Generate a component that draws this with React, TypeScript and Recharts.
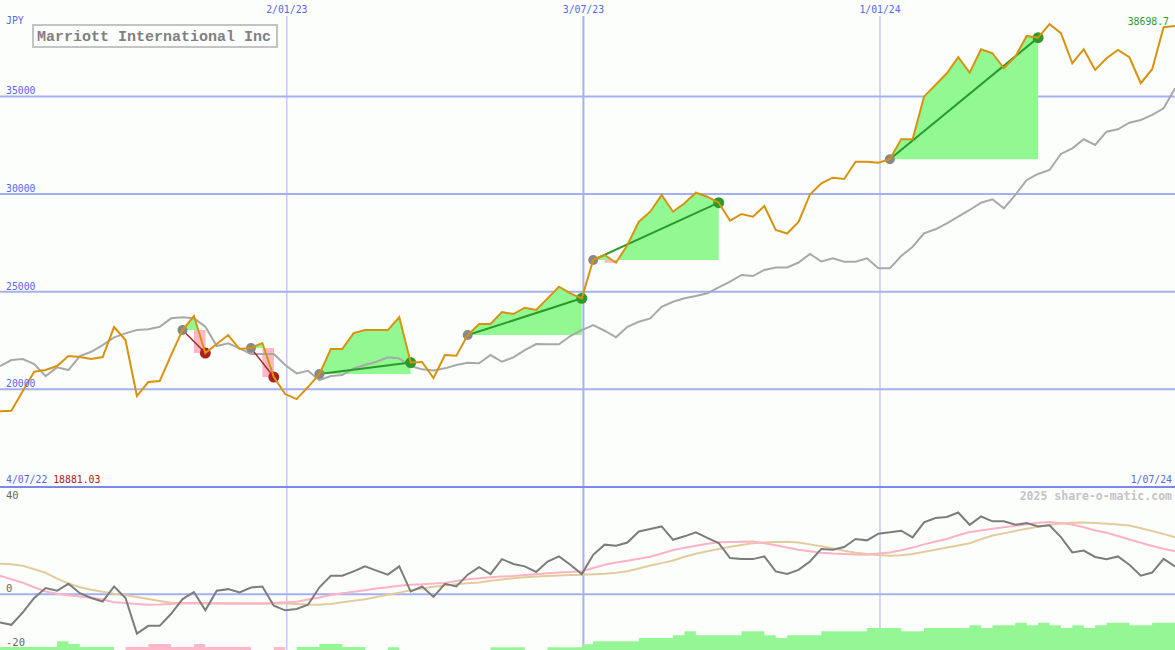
import React from "react";
import {
  ComposedChart,
  Line,
  Area,
  XAxis,
  YAxis,
  ReferenceLine,
  ReferenceArea,
  ReferenceDot,
} from "recharts";

// weekly closes, first point 6 days after 4/07/22
const startDay = 6;

const price = [
  18881, 18900, 19913, 20902, 20989, 21194, 21706, 21655, 21552, 21655,
  23192, 22526, 19657, 20374, 20425, 21757, 23038, 23755, 21860, 22321,
  22782, 22065, 22116, 22372, 20630, 19759, 19503, 20118, 20784, 22065,
  22065, 22884, 23038, 23038, 23038, 23704, 21373, 21399, 20579, 21757,
  21721, 22782, 23345, 23345, 23960, 23858, 24180, 24063, 24662, 25256,
  24918, 24662, 26624, 26880, 26486, 27393, 28586, 29098, 29954, 29098,
  29529, 30072, 29867, 29560, 28637, 28981, 28842, 29390, 28161, 27982,
  28571, 29980, 30550, 30840, 30774, 31660, 31660, 31609, 31783, 32808,
  32808, 34990, 35589, 36189, 37008, 36220, 37418, 37213, 36445, 37039,
  38100, 38012, 38699, 38238, 36701, 37418, 36358, 36957, 37382, 37008,
  35676, 36394, 38545, 38612,
];

const indexLine = [
  21194, 21501, 21552, 21296, 20681, 21127, 20989, 21706, 21926, 22269,
  22664, 22869, 23038, 23074, 23207, 23637, 23689, 23637, 23207, 22218,
  22357, 22100, 21808, 21808, 21808, 21245, 20820, 20953, 20476, 20681,
  20733, 21076, 21245, 21414, 21639, 21588, 21194, 21025, 20963, 21076,
  21245, 21363, 21332, 21757, 21414, 21639, 22013, 22321, 22305, 22305,
  22731, 23038, 23294, 23002, 22664, 23207, 23463, 23637, 24232, 24488,
  24662, 24780, 24918, 25225, 25512, 25856, 25804, 26112, 26240, 26240,
  26496, 26931, 26547, 26711, 26537, 26537, 26711, 26199, 26199, 26829,
  27305, 27992, 28197, 28504, 28842, 29186, 29560, 29734, 29273, 29954,
  30723, 31030, 31235, 32054, 32346, 32808, 32516, 33197, 33320, 33658,
  33796, 34052, 34396, 35420,
];

const momentum = [
  -10.5, -11.4, -6.8, -1.4, 2.3, 1.3, 3.9, 0.4, -1.4, -2.7,
  2.9, -1.4, -14.7, -11.8, -11.8, -7.3, -1.8, 0.8, -6.0, 1.3,
  1.9, 0.7, 2.5, 2.9, -4.3, -6.0, -5.5, -3.9, 2.6, 6.9,
  6.9, 8.5, 10.4, 8.8, 7.3, 10.4, 1.0, 2.9, -1.0, 3.9,
  2.9, 7.3, 10.1, 7.5, 13.1, 11.3, 10.4, 8.3, 12.2, 14.1,
  11.0, 7.5, 14.7, 18.5, 18.1, 19.3, 23.4, 24.3, 25.3, 20.3,
  21.6, 23.1, 21.0, 19.1, 13.5, 13.1, 13.1, 14.1, 8.5, 7.6,
  9.1, 12.2, 16.9, 16.6, 17.6, 20.6, 20.1, 22.6, 23.1, 23.7,
  21.2, 26.8, 28.4, 28.8, 30.5, 25.9, 29.0, 27.2, 27.2, 25.9,
  26.6, 25.3, 25.7, 21.3, 15.6, 16.3, 13.9, 13.1, 14.1, 11.0,
  6.9, 8.1, 13.2, 10.4,
];

const fastAvg = [
  6.9, 5.6, 4.3, 2.6, 1.0, 0.2, -0.4, -0.8, -1.3, -2.0,
  -3.0, -3.3, -3.6, -3.9, -3.8, -3.6, -3.4, -3.2, -3.3, -3.4,
  -3.5, -3.5, -3.5, -3.5, -3.3, -3.0, -2.8, -2.0, -1.2, -0.3,
  0.4, 0.9, 1.5, 2.1, 2.6, 3.2, 3.5, 3.7, 4.0, 4.2,
  4.9, 5.6, 6.0, 6.3, 6.6, 6.8, 7.2, 7.5, 7.8, 8.1,
  8.3, 8.6, 9.8, 11.0, 11.8, 12.5, 13.2, 14.0, 15.2, 16.5,
  17.3, 18.1, 18.8, 19.4, 19.5, 19.6, 19.7, 19.0, 18.3, 17.4,
  16.6, 16.0, 15.5, 15.2, 15.0, 14.8, 14.7, 15.2, 15.6, 16.4,
  17.4, 18.6, 19.7, 20.6, 22.0, 23.2, 23.8, 24.4, 25.0, 25.5,
  26.1, 26.7, 26.9, 26.5, 26.0, 25.0, 23.8, 22.9, 21.7, 20.4,
  19.2, 18.0, 17.0, 16.0,
];

const slowAvg = [
  11.4, 11.2, 10.6, 9.3, 8.0, 5.8, 4.0, 2.6, 1.7, 0.9,
  0.2, -0.4, -1.0, -1.8, -2.5, -3.2, -3.4, -3.5, -3.5, -3.5,
  -3.5, -3.5, -3.5, -3.5, -3.5, -3.5, -3.6, -3.8, -3.9, -3.6,
  -3.0, -2.4, -1.9, -1.0, -0.2, 0.6, 1.5, 2.1, 2.8, 3.3,
  3.7, 4.1, 4.4, 5.0, 5.5, 6.0, 6.3, 6.6, 6.8, 7.0,
  7.2, 7.3, 7.5, 7.6, 8.0, 8.6, 9.6, 10.7, 11.6, 12.6,
  14.0, 15.1, 16.0, 16.9, 17.7, 18.4, 19.0, 19.3, 19.5, 19.6,
  19.3, 18.6, 17.9, 17.1, 16.2, 15.5, 15.0, 14.6, 14.4, 14.5,
  15.0, 15.8, 16.6, 17.4, 18.2, 19.0, 20.5, 21.9, 22.7, 23.6,
  24.4, 25.2, 25.9, 26.4, 26.7, 26.8, 26.6, 26.3, 26.0, 25.6,
  24.6, 23.6, 22.5, 21.2,
];

const histogram = [
  1.1, 1.1, 1.1, 1.1, 1.1, 3.3, 2.2, 1.1, 1.1, 1.1,
  0, -1.1, -1.1, -2.2, -2.2, -1.1, -1.1, -2.2, -1.1, -1.1,
  -1.1, -1.1, 0, 0, -1.1, 0, 1.1, 1.1, 2.2, 2.2,
  1.1, 1.1, 0, 0, 1.0, 0, 0, 0, 0, 0,
  0, 0, 0, 1.0, 1.0, 1.0, 0, 0, 1.0, 1.0,
  1.0, 2.1, 3.3, 3.3, 3.3, 3.3, 4.5, 4.5, 4.5, 5.5,
  7.0, 5.5, 5.5, 5.5, 5.5, 7.0, 7.0, 5.5, 4.5, 5.5,
  5.5, 5.5, 7.0, 7.0, 7.0, 7.0, 8.2, 8.2, 8.2, 7.0,
  7.0, 8.2, 8.2, 8.2, 8.2, 9.2, 8.2, 9.2, 9.2, 10.2,
  9.2, 10.2, 9.2, 8.2, 9.2, 8.2, 9.2, 10.2, 10.2, 9.2,
  9.2, 10.2, 10.2, 10.2,
];

// trades: index of entry and exit week
const tradeEntries = [16, 22, 28, 41, 52, 78];
const tradeExits = [18, 24, 36, 51, 63, 91];

const dateTicks = [182, 364, 546];
const dateLabels = ["2/01/23", "3/07/23", "1/01/24"];
const priceTicks = [20000, 25000, 30000, 35000];
const oscTicks = [40, 0, -20];

const W = 1175;
const mono = "'DejaVu Sans Mono', 'Liberation Mono', monospace";
const blue = "#5766ee";
const gridBlue = "#a4b0f2";

const dayOf = (i: number) => startDay + 7 * i;

const rows = price.map((p, i) => {
  const row: any = {
    day: dayOf(i),
    price: p,
    index: indexLine[i],
    momentum: momentum[i],
    fast: fastAvg[i],
    slow: slowAvg[i],
    histUp: Math.max(histogram[i], 0),
    histDown: Math.max(-histogram[i], 0),
  };
  tradeEntries.forEach((e, k) => {
    if (i >= e && i <= tradeExits[k]) row[`fill${k}`] = [price[e], p];
  });
  return row;
});

const lossRects: { x1: number; x2: number; y1: number; y2: number }[] = [];
tradeEntries.forEach((e, k) => {
  for (let i = e + 1; i <= tradeExits[k]; i++) {
    if (price[i] < price[e]) {
      lossRects.push({ x1: dayOf(i - 1), x2: dayOf(i), y1: price[i], y2: price[e] });
    }
  }
});

const DateTick = (props: any) => {
  const label = dateLabels[dateTicks.indexOf(props.payload.value)];
  return (
    <text x={props.x} y={13} textAnchor="middle" fontFamily={mono} fontSize={9.8} fill={blue}>
      {label}
    </text>
  );
};

const PriceTick = (props: any) => (
  <text x={6} y={props.y - 2} textAnchor="start" fontFamily={mono} fontSize={9.8} fill={blue}>
    {props.payload.value}
  </text>
);

const OscTick = (props: any) => (
  <text
    x={6}
    y={props.payload.value === 40 ? props.y + 12 : props.y - 2}
    textAnchor="start"
    fontFamily={mono}
    fontSize={10.5}
    fill="#666"
  >
    {props.payload.value}
  </text>
);

export default function App(): JSX.Element {
  return (
    <div style={{ position: "fixed", left: 0, top: 0, width: W, height: 650, background: "#fcfefc", overflow: "hidden" }}>
      <div style={{ position: "absolute", left: 0, top: 0 }}>
        <ComposedChart width={W} height={487} data={rows} margin={{ top: 0, right: 0, bottom: 0, left: 0 }}>
          <XAxis
            dataKey="day"
            type="number"
            domain={[6, 727]}
            orientation="top"
            height={16}
            ticks={dateTicks}
            interval={0}
            tick={DateTick}
            axisLine={false}
            tickLine={false}
            allowDataOverflow
          />
          <YAxis
            type="number"
            domain={[15000, 39120]}
            mirror
            ticks={priceTicks}
            interval={0}
            tick={PriceTick}
            axisLine={false}
            tickLine={false}
            allowDataOverflow
          />
          {dateTicks.map((d, k) => (
            <ReferenceLine key={`v${d}`} x={d} stroke={gridBlue} strokeWidth={k === 1 ? 2 : 1} zIndex={-50} />
          ))}
          {priceTicks.map((v) => (
            <ReferenceLine key={`h${v}`} y={v} stroke={gridBlue} strokeWidth={2} zIndex={-50} />
          ))}
          {tradeEntries.map((e, k) => (
            <Area
              key={`fill${k}`}
              dataKey={`fill${k}`}
              type="linear"
              fill="#92f892"
              fillOpacity={1}
              stroke="none"
              isAnimationActive={false}
            />
          ))}
          {lossRects.map((r, k) => (
            <ReferenceArea
              key={`loss${k}`}
              x1={r.x1}
              x2={r.x2}
              y1={r.y1}
              y2={r.y2}
              fill="#ffb6c6"
              fillOpacity={1}
              stroke="none"
              zIndex={150}
            />
          ))}
          <Line dataKey="index" type="linear" stroke="#a8a8a8" strokeWidth={2} dot={false} isAnimationActive={false} />
          {tradeEntries.map((e, k) => {
            const x = tradeExits[k];
            const win = price[x] > price[e];
            return (
              <ReferenceLine
                key={`t${k}`}
                segment={[
                  { x: dayOf(e), y: price[e] },
                  { x: dayOf(x), y: price[x] },
                ]}
                stroke={win ? "#2a9a2a" : "#a02828"}
                strokeWidth={win ? 2 : 1.5}
                zIndex={450}
              />
            );
          })}
          {tradeEntries.map((e, k) => (
            <ReferenceDot key={`de${k}`} x={dayOf(e)} y={price[e]} r={5} fill="#888888" stroke="none" zIndex={600} />
          ))}
          {tradeExits.map((x, k) => (
            <ReferenceDot
              key={`dx${k}`}
              x={dayOf(x)}
              y={price[x]}
              r={5.5}
              fill={price[x] > price[tradeEntries[k]] ? "#2a9a2a" : "#ac2222"}
              stroke="none"
              zIndex={600}
            />
          ))}
          <Line
            dataKey="price"
            type="linear"
            stroke="#d8920e"
            strokeWidth={2}
            dot={false}
            isAnimationActive={false}
            zIndex={700}
          />
        </ComposedChart>
      </div>

      <div style={{ position: "absolute", left: 0, top: 485 }}>
        <ComposedChart width={W} height={165} data={rows} margin={{ top: 2, right: 0, bottom: 0, left: 0 }}>
          <XAxis dataKey="day" type="number" domain={[6, 727]} hide allowDataOverflow />
          <YAxis
            yAxisId="osc"
            type="number"
            domain={[-20.8, 40]}
            mirror
            ticks={oscTicks}
            interval={0}
            tick={OscTick}
            axisLine={false}
            tickLine={false}
            allowDataOverflow
          />
          <YAxis yAxisId="hist" type="number" domain={[0, 60.8]} hide allowDataOverflow />
          {dateTicks.map((d, k) => (
            <ReferenceLine key={`bv${d}`} yAxisId="osc" x={d} stroke={gridBlue} strokeWidth={k === 1 ? 2 : 1} zIndex={-50} />
          ))}
          <ReferenceLine yAxisId="osc" y={0} stroke={gridBlue} strokeWidth={2} zIndex={-50} />
          <Area
            yAxisId="hist"
            dataKey="histUp"
            type="stepAfter"
            fill="#94f794"
            fillOpacity={1}
            stroke="none"
            isAnimationActive={false}
          />
          <Area
            yAxisId="hist"
            dataKey="histDown"
            type="stepAfter"
            fill="#ffb8c8"
            fillOpacity={1}
            stroke="none"
            isAnimationActive={false}
          />
          <Line yAxisId="osc" dataKey="slow" type="linear" stroke="#e2cc9c" strokeWidth={2} dot={false} isAnimationActive={false} />
          <Line yAxisId="osc" dataKey="fast" type="linear" stroke="#ffb2c4" strokeWidth={2} dot={false} isAnimationActive={false} />
          <Line yAxisId="osc" dataKey="momentum" type="linear" stroke="#7c7c7c" strokeWidth={2} dot={false} isAnimationActive={false} />
          <ReferenceLine yAxisId="osc" y={40} stroke="#7b88ea" strokeWidth={2} zIndex={700} />
        </ComposedChart>
      </div>

      <svg width={W} height={650} style={{ position: "absolute", left: 0, top: 0, pointerEvents: "none" }}>
        <text x={6} y={24} fontFamily={mono} fontSize={9.8} fill={blue}>JPY</text>
        <rect x={33} y={25} width={244} height={22} fill="#fcfefc" stroke="#c4c4c4" strokeWidth={2} />
        <text x={37} y={41} fontFamily="'Liberation Mono', monospace" fontWeight="bold" fontSize={15} fill="#808080">
          Marriott International Inc
        </text>
        <text x={1169} y={25} textAnchor="end" fontFamily={mono} fontSize={9.8} fill="#2a9a2a">38698.7</text>
        <text x={6} y={483} fontFamily={mono} fontSize={9.8}>
          <tspan fill={blue}>4/07/22 </tspan>
          <tspan fill="#aa2020">18881.03</tspan>
        </text>
        <text x={1172} y={483} textAnchor="end" fontFamily={mono} fontSize={9.8} fill={blue}>1/07/24</text>
        <text x={1172} y={500} textAnchor="end" fontFamily={mono} fontWeight="bold" fontSize={11.5} fill="#c4c4c4">
          2025 share-o-matic.com
        </text>
      </svg>
    </div>
  );
}
